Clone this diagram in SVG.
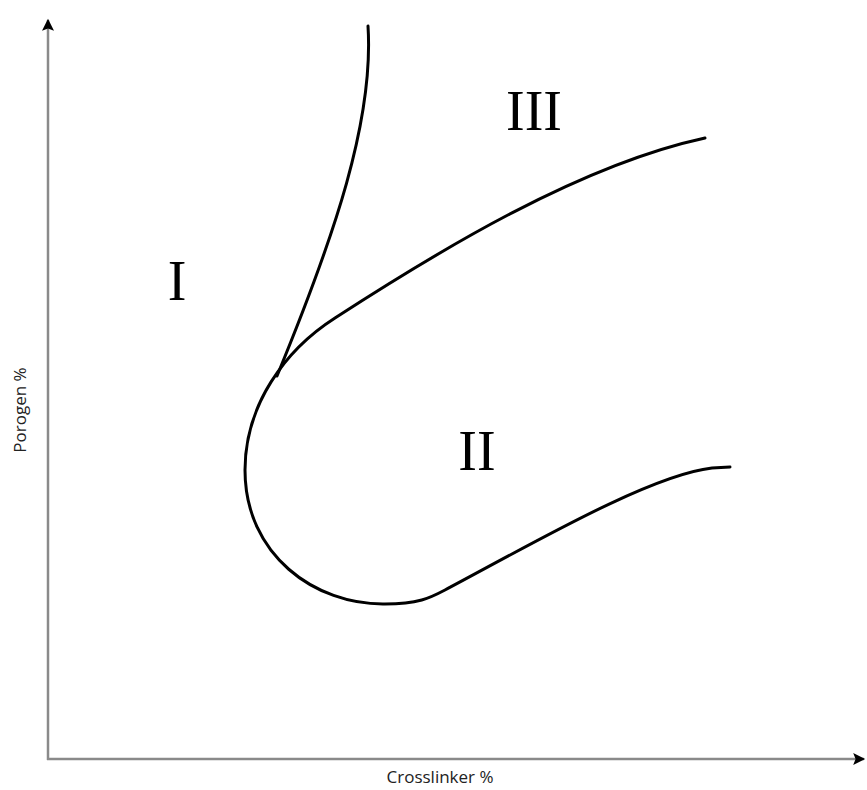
<svg xmlns="http://www.w3.org/2000/svg" width="867" height="790" viewBox="0 0 867 790">
<style>
.axis{stroke:#8a8a8a;stroke-width:2.5;fill:none}
.curve{stroke:#000;stroke-width:3;fill:none;stroke-linecap:round}
.region{font-family:"Liberation Serif",serif;font-size:56px;fill:#000}
.lbl{font-family:"Open Sans","Liberation Sans",sans-serif;font-size:17px;fill:#222}
</style>
<defs>
<marker id="ah" viewBox="0 0 10 10" refX="9" refY="5" markerWidth="13" markerHeight="12" markerUnits="userSpaceOnUse" orient="auto">
<path d="M0,0 L10,5 L0,10 L2,5 Z" fill="#000"/>
</marker>
</defs>
<g id="axes">
<line class="axis" x1="48" y1="760" x2="48" y2="20" marker-end="url(#ah)"/>
<line class="axis" x1="47" y1="759" x2="864" y2="759" marker-end="url(#ah)"/>
</g>
<g id="curves">
<path class="curve" d="M368,26 C374,120 335,235 277,376"/>
<path class="curve" d="M705,138 C580,165 440,250 335,318 C285,350 245,405 245,470 C245,555 315,605 385,604 C418,604 430,598 445,590 C530,545 650,475 712,468 L730,467"/>
</g>
<g id="labels">
<text class="region" x="534" y="130" text-anchor="middle">III</text>
<text class="region" x="177" y="300" text-anchor="middle">I</text>
<text class="region" x="477" y="470" text-anchor="middle">II</text>
<text class="lbl" x="440" y="783" text-anchor="middle">Crosslinker %</text>
<text class="lbl" transform="translate(26,410) rotate(-90)" text-anchor="middle">Porogen %</text>
</g>
</svg>
